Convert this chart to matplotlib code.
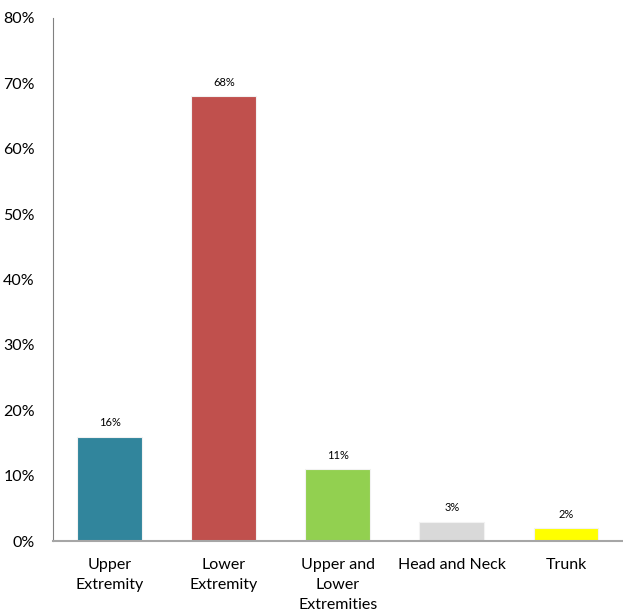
import matplotlib.pyplot as plt
from matplotlib.ticker import PercentFormatter

plt.rcParams['font.family'] = ['Lato', 'DejaVu Sans']

categorias = ['Upper\nExtremity', 'Lower\nExtremity', 'Upper and\nLower\nExtremities',
              'Head and Neck', 'Trunk']
valores = [16, 68, 11, 3, 2]
cores = ['#31859C', '#C0504D', '#92D050', '#D9D9D9', '#FFFF00']

fig = plt.figure(figsize=(6.23, 6.15), dpi=100)
ax = fig.add_axes([0.085, 0.12, 0.915, 0.851])

posicoes = range(len(categorias))
barras = ax.bar(posicoes, valores, width=0.57, color=cores, edgecolor='#F2F2F2', linewidth=0.8)

for b, v in zip(barras, valores):
    ax.annotate(f'{v}%', (b.get_x() + b.get_width() / 2, v), xytext=(0, 6),
                textcoords='offset points', ha='center', va='bottom', fontsize=8)

ax.set_xlim(-0.5, len(categorias) - 0.5)
ax.set_ylim(0, 80)
ax.set_yticks(range(0, 81, 10))
ax.yaxis.set_major_formatter(PercentFormatter(decimals=0))
ax.set_xticks(list(posicoes))
ax.set_xticklabels(categorias, linespacing=1.55, va='top')

ax.tick_params(axis='y', length=0, pad=13, labelsize=11.5)
ax.tick_params(axis='x', length=0, pad=12, labelsize=11.5)

for lado in ['top', 'right']:
    ax.spines[lado].set_visible(False)
ax.spines['left'].set_color('#808080')
ax.spines['bottom'].set_color('#A6A6A6')
ax.spines['bottom'].set_linewidth(1.5)

plt.savefig('out.png')
